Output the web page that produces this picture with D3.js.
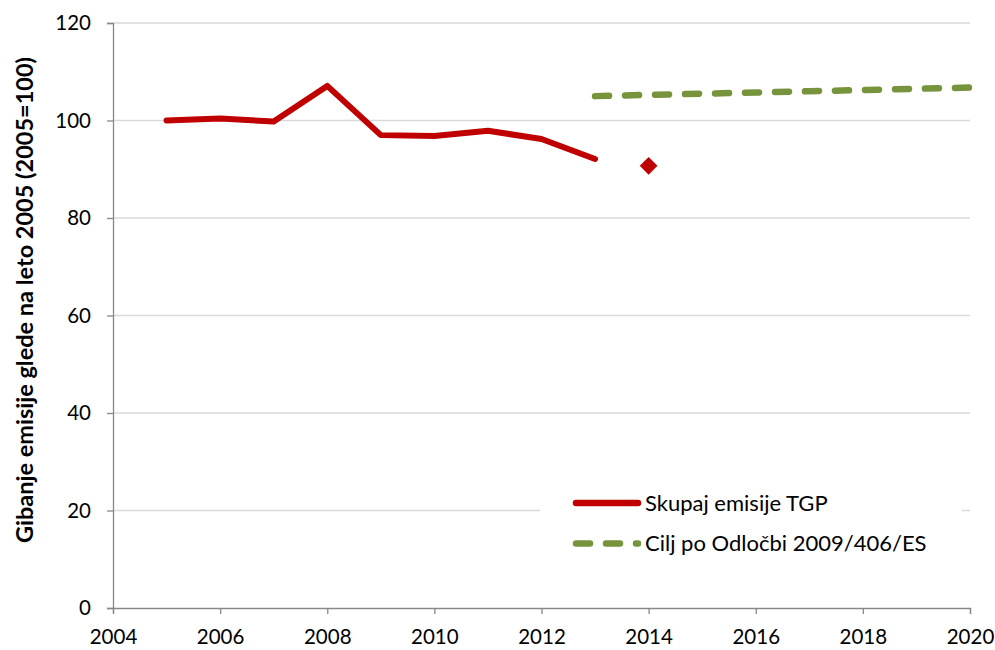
<!DOCTYPE html>
<html>
<head>
<meta charset="utf-8">
<script src="https://cdn.jsdelivr.net/npm/d3@7"></script>
<style>
  body { margin: 0; background: #fff; }
  svg text { font-family: Lato, "Open Sans", sans-serif; fill: #000; }
</style>
</head>
<body>
<svg class="chart"></svg>
<script>
// data
const years = [2005, 2006, 2007, 2008, 2009, 2010, 2011, 2012, 2013];
const emissions = [100, 100.4, 99.8, 107.1, 97.0, 96.8, 97.9, 96.2, 92.1];
const estYear = [2014];
const estValue = [90.7];
const targetYears = [2013, 2014, 2015, 2016, 2017, 2018, 2019, 2020];
const targetValues = [105.0, 105.25, 105.5, 105.75, 106.0, 106.25, 106.5, 106.75];
const xTicks = [2004, 2006, 2008, 2010, 2012, 2014, 2016, 2018, 2020];
const yTicks = [0, 20, 40, 60, 80, 100, 120];
const legendLabels = ['Skupaj emisije TGP', 'Cilj po Odločbi 2009/406/ES'];

const width = 995, height = 650;
const margin = { top: 23, right: 25, bottom: 42, left: 113 };

const svg = d3.select('svg.chart')
  .attr('width', width)
  .attr('height', height);

let x = d3.scaleLinear()
  .domain([2004, 2020])
  .range([margin.left, width - margin.right]);

let y = d3.scaleLinear()
  .domain([0, 120])
  .range([height - margin.bottom, margin.top]);

//Gridlines
svg.append('g')
  .selectAll('line')
  .data(yTicks.filter(d => d > 0))
  .enter()
  .append('line')
    .attr('x1', x(2004))
    .attr('x2', x(2020))
    .attr('y1', d => y(d))
    .attr('y2', d => y(d))
    .attr('stroke', '#d9d9d9')
    .attr('stroke-width', 1.3);

//Axes
let xAxis = svg.append('g')
  .attr('transform', `translate(0,${y(0)})`)
  .call(d3.axisBottom(x).tickValues(xTicks).tickFormat(d3.format('d')).tickSize(6).tickPadding(15));

let yAxis = svg.append('g')
  .attr('transform', `translate(${x(2004)},0)`)
  .call(d3.axisLeft(y).tickValues(yTicks).tickSize(6).tickPadding(16));

[xAxis, yAxis].forEach(ax => {
  ax.select('.domain').attr('stroke', '#888').attr('stroke-width', 1.3);
  ax.selectAll('.tick line').attr('stroke', '#888').attr('stroke-width', 1.3);
  ax.selectAll('.tick text')
    .style('font-size', '20.5px')
    .style('font-family', 'Lato, "Open Sans", sans-serif')
    .attr('fill', '#000');
});

//Y title
svg.append('text')
  .attr('transform', `translate(33,300) rotate(-90)`)
  .attr('text-anchor', 'middle')
  .style('font-size', '23.5px')
  .style('font-weight', 'bold')
  .text('Gibanje emisije glede na leto 2005 (2005=100)');

//Lines
let line = d3.line()
  .x(d => x(d[0]))
  .y(d => y(d[1]));

svg.append('path')
  .datum(targetYears.map((yr, i) => [yr, targetValues[i]]))
  .attr('d', line)
  .attr('fill', 'none')
  .attr('stroke', '#77933c')
  .attr('stroke-width', 6.5)
  .attr('stroke-linecap', 'round')
  .attr('stroke-dasharray', '14,16');

svg.append('path')
  .datum(years.map((yr, i) => [yr, emissions[i]]))
  .attr('d', line)
  .attr('fill', 'none')
  .attr('stroke', '#c00000')
  .attr('stroke-width', 6)
  .attr('stroke-linecap', 'round')
  .attr('stroke-linejoin', 'round');

//Estimate marker
svg.selectAll('.est')
  .data(estYear.map((yr, i) => [yr, estValue[i]]))
  .enter()
  .append('path')
    .classed('est', true)
    .attr('transform', d => `translate(${x(d[0])},${y(d[1])})`)
    .attr('d', d3.symbol().type(d3.symbolDiamond2).size(200))
    .attr('fill', '#c00000');

//Legend
let legend = svg.append('g').attr('transform', 'translate(540,478)');
legend.append('rect')
  .attr('width', 422)
  .attr('height', 88)
  .attr('fill', '#fff');

let legendStyles = [
  { color: '#c00000', dash: null },
  { color: '#77933c', dash: '14,16' }
];

legendLabels.forEach((label, i) => {
  let row = legend.append('g').attr('transform', `translate(0,${25 + i * 40.5})`);
  row.append('line')
    .attr('x1', 36)
    .attr('x2', 98)
    .attr('stroke', legendStyles[i].color)
    .attr('stroke-width', 6.5)
    .attr('stroke-linecap', 'round')
    .attr('stroke-dasharray', legendStyles[i].dash);
  row.append('text')
    .attr('x', 105)
    .attr('dy', '0.35em')
    .style('font-size', '22px')
    .text(label);
});
</script>
</body>
</html>
